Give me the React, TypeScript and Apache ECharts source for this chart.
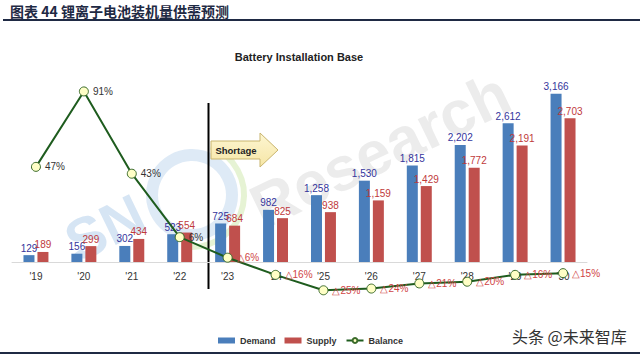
import React, { useEffect, useRef } from "react";
import * as echarts from "echarts";

const years = ["'19", "'20", "'21", "'22", "'23", "'24", "'25", "'26", "'27", "'28", "'29", "'30"];
const demand = [129, 156, 302, 523, 725, 982, 1258, 1530, 1815, 2202, 2612, 3166];
const supply = [189, 299, 434, 554, 684, 825, 938, 1159, 1429, 1772, 2191, 2703];
const balance = [47, 91, 43, 6, -6, -16, -25, -24, -21, -20, -16, -15];

const FONT = "Liberation Sans, Arial, sans-serif";
const CJK = "Noto Sans CJK SC, sans-serif";

export default function App() {
  const ref = useRef<HTMLDivElement>(null);
  useEffect(() => {
    if (!ref.current) return;
    const chart = echarts.init(ref.current, null, { renderer: "svg" });
    const fmt = (v: number) => v.toLocaleString("en-US");
    chart.setOption({
      animation: false,
      backgroundColor: "#ffffff",
      grid: { left: 12, right: 53, top: 76, bottom: 93 },
      legend: {
        left: 213,
        top: 331,
        itemWidth: 17,
        itemHeight: 6,
        itemGap: 9,
        textStyle: { fontSize: 9, fontWeight: "bold", color: "#333", fontFamily: FONT },
        data: [
          { name: "Demand", icon: "rect" },
          { name: "Supply", icon: "rect" },
          { name: "Balance" },
        ],
      },
      xAxis: {
        type: "category",
        data: years,
        axisLine: { lineStyle: { color: "#d9d9d9", width: 1 } },
        axisTick: { show: false },
        axisLabel: { margin: 9, fontSize: 10, color: "#333", fontFamily: FONT },
      },
      yAxis: [
        { type: "value", min: 0, max: 3500, show: false, splitLine: { show: false } },
        { type: "value", min: -8.5, max: 100, show: false, splitLine: { show: false } },
      ],
      series: [
        {
          name: "Demand",
          type: "bar",
          data: demand,
          barWidth: 11,
          barGap: "27%",
          itemStyle: { color: "#4a7ebb" },
          label: {
            show: true,
            position: "top",
            distance: 2,
            fontSize: 10,
            fontFamily: FONT,
            color: "#34349c",
            formatter: (p: any) => fmt(p.value),
          },
        },
        {
          name: "Supply",
          type: "bar",
          data: supply,
          barWidth: 11,
          itemStyle: { color: "#c0504d" },
          label: {
            show: true,
            position: "top",
            distance: 2,
            fontSize: 10,
            fontFamily: FONT,
            color: "#c0393b",
            formatter: (p: any) => fmt(p.value),
          },
        },
        {
          name: "Balance",
          type: "line",
          yAxisIndex: 1,
          data: balance,
          clip: false,
          z: 5,
          symbol: "circle",
          symbolSize: 9,
          lineStyle: { color: "#1e5c1e", width: 2 },
          itemStyle: { color: "#ffffc6", borderColor: "#3a6b2a", borderWidth: 1 },
          label: {
            show: true,
            position: "right",
            distance: 4,
            fontSize: 10,
            fontFamily: FONT,
            formatter: (p: any) =>
              p.value >= 0 ? `{p|${p.value}%}` : `{n|△${-p.value}%}`,
            rich: {
              p: { color: "#333", fontSize: 10, fontFamily: FONT },
              n: { color: "#d04545", fontSize: 10, fontFamily: FONT },
            },
          },
        },
      ],
      graphic: [
        {
          type: "text",
          z: -10,
          x: 105,
          y: 228,
          rotation: 0.45,
          style: {
            text: "SN",
            fontSize: 58,
            fontWeight: "bold",
            fontFamily: FONT,
            fill: "rgba(90,150,210,0.25)",
            textAlign: "center",
            textVerticalAlign: "middle",
          },
        },
        {
          type: "arc",
          z: -10,
          shape: { cx: 192, cy: 195, r: 40, startAngle: 0, endAngle: Math.PI * 2 },
          style: { stroke: "rgba(90,150,210,0.2)", lineWidth: 12, fill: "none" },
        },
        {
          type: "arc",
          z: -10,
          shape: { cx: 192, cy: 195, r: 52, startAngle: -1.2, endAngle: 1.6 },
          style: { stroke: "rgba(140,200,60,0.22)", lineWidth: 6, fill: "none" },
        },
        {
          type: "text",
          z: -10,
          x: 380,
          y: 150,
          rotation: 0.45,
          style: {
            text: "Research",
            fontSize: 62,
            fontWeight: "bold",
            fontFamily: FONT,
            fill: "rgba(170,170,170,0.22)",
            textAlign: "center",
            textVerticalAlign: "middle",
          },
        },
        {
          type: "text",
          x: 10,
          y: 11,
          style: {
            text: "图表 44 锂离子电池装机量供需预测",
            fontSize: 14,
            fontWeight: "bold",
            fontFamily: CJK,
            fill: "#1f2a44",
            textVerticalAlign: "middle",
          },
        },
        {
          type: "line",
          shape: { x1: 3, y1: 20, x2: 640, y2: 20 },
          style: { stroke: "#1f2a44", lineWidth: 2 },
        },
        {
          type: "line",
          shape: { x1: 0, y1: 353, x2: 640, y2: 353 },
          style: { stroke: "#1f2a44", lineWidth: 2 },
        },
        {
          type: "text",
          x: 299,
          y: 57,
          style: {
            text: "Battery Installation Base",
            fontSize: 11,
            fontWeight: "bold",
            fontFamily: FONT,
            fill: "#222",
            textAlign: "center",
            textVerticalAlign: "middle",
          },
        },
        {
          type: "line",
          shape: { x1: 208.5, y1: 103, x2: 208.5, y2: 289 },
          style: { stroke: "#000", lineWidth: 2 },
        },
        {
          type: "polygon",
          shape: {
            points: [
              [211, 141],
              [260, 141],
              [260, 133],
              [278, 150],
              [260, 167],
              [260, 159],
              [211, 159],
            ],
          },
          style: {
            fill: new echarts.graphic.LinearGradient(0, 0, 0, 1, [
              { offset: 0, color: "#fdf6d2" },
              { offset: 1, color: "#f6e6a6" },
            ]),
            stroke: "#c9b56e",
            lineWidth: 1,
          },
        },
        {
          type: "text",
          x: 236,
          y: 150,
          style: {
            text: "Shortage",
            fontSize: 9.5,
            fontWeight: "bold",
            fontFamily: FONT,
            fill: "#222",
            textAlign: "center",
            textVerticalAlign: "middle",
          },
        },
        {
          type: "text",
          x: 512,
          y: 336,
          style: {
            text: "头条 @未来智库",
            fontSize: 16,
            fontFamily: CJK,
            fill: "#333",
            textVerticalAlign: "middle",
          },
        },
      ],
    });
    return () => chart.dispose();
  }, []);
  return (
    <div
      ref={ref}
      style={{ position: "fixed", left: 0, top: 0, width: 640, height: 355, background: "#fff" }}
    />
  );
}
